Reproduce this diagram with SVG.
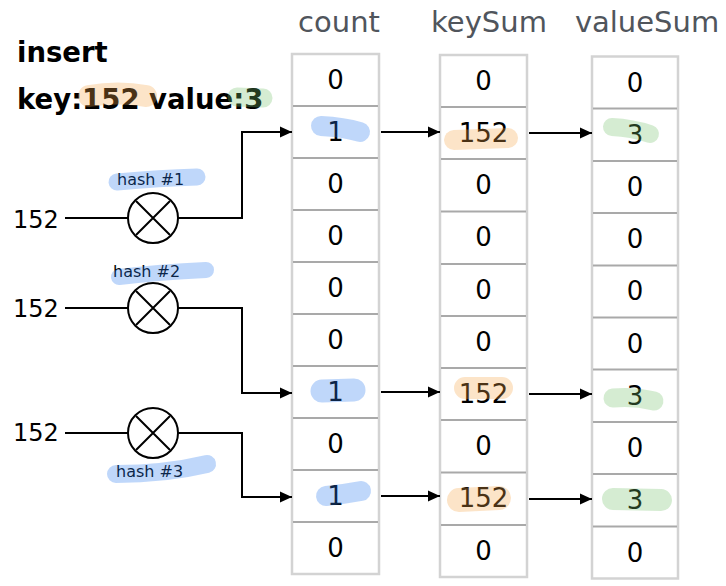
<svg xmlns="http://www.w3.org/2000/svg" width="726" height="586" viewBox="0 0 726 586">
<defs>
<marker id="ah" viewBox="0 0 12 12" refX="12" refY="6" markerWidth="12" markerHeight="12" markerUnits="userSpaceOnUse" orient="auto">
<path d="M0,0.5 L12,6 L0,11.5 Z" fill="#000"/>
</marker>
<style>
.hdr{font-family:"DejaVu Sans",sans-serif;font-size:29px;fill:#50555c;text-anchor:middle}
.ttl{font-family:"DejaVu Sans",sans-serif;font-size:27.5px;font-weight:bold;fill:#000}
.cell{font-family:"DejaVu Sans",sans-serif;font-size:26px;fill:#000;text-anchor:middle}
.in{font-family:"DejaVu Sans",sans-serif;font-size:24px;fill:#000}
.hl{font-family:"DejaVu Sans",sans-serif;font-size:16px;fill:#000}
.box{fill:#fff;stroke:#d3d3d3;stroke-width:2.5}
.sep{stroke:#a9a9a9;stroke-width:2}
.wire{fill:none;stroke:#000;stroke-width:2}
.arr{fill:none;stroke:#000;stroke-width:2;marker-end:url(#ah)}
.hash{fill:#fff;stroke:#000;stroke-width:2}
.b{fill:none;stroke:#2a7aee;stroke-opacity:0.3;stroke-linecap:round;stroke-linejoin:round}
.o{fill:none;stroke:#f5a54a;stroke-opacity:0.3;stroke-linecap:round;stroke-linejoin:round}
.g{fill:none;stroke:#73c069;stroke-opacity:0.3;stroke-linecap:round;stroke-linejoin:round}
</style>
</defs>
<rect width="726" height="586" fill="#fff"/>

<g id="title">
<text class="ttl" x="17" y="62">insert</text>
<text class="ttl" x="17" y="109">key:152 value:3</text>
<path class="o" d="M89,96 Q118,91 146,96" stroke-width="22"/>
<path class="g" d="M237,97 L263,98" stroke-width="19"/>
</g>

<g id="headers">
<text class="hdr" x="339" y="32">count</text>
<text class="hdr" x="489" y="32">keySum</text>
<text class="hdr" x="647" y="32">valueSum</text>
</g>

<g id="count">
<rect class="box" x="292" y="54" width="87" height="520"/>
<path class="sep" d="M293,106H378M293,158H378M293,210H378M293,262H378M293,314H378M293,366H378M293,418H378M293,470H378M293,522H378"/>
<text class="cell" x="335.5" y="89">0</text>
<text class="cell" x="335.5" y="141">1</text>
<text class="cell" x="335.5" y="193">0</text>
<text class="cell" x="335.5" y="245">0</text>
<text class="cell" x="335.5" y="297">0</text>
<text class="cell" x="335.5" y="349">0</text>
<text class="cell" x="335.5" y="401">1</text>
<text class="cell" x="335.5" y="453">0</text>
<text class="cell" x="335.5" y="505">1</text>
<text class="cell" x="335.5" y="557">0</text>
<path class="b" d="M321,126 Q343,127 360,132" stroke-width="20"/>
<path class="b" d="M322,391 L354,390" stroke-width="23"/>
<path class="b" d="M326,496 Q345,494 361,491" stroke-width="20"/>
</g>

<g id="keySum">
<rect class="box" x="440" y="55" width="87" height="522"/>
<path class="sep" d="M441,107H526M441,159H526M441,211.5H526M441,264H526M441,316H526M441,368H526M441,420H526M441,472.5H526M441,525H526"/>
<text class="cell" x="483.5" y="90">0</text>
<text class="cell" x="483.5" y="142">152</text>
<text class="cell" x="483.5" y="194">0</text>
<text class="cell" x="483.5" y="246">0</text>
<text class="cell" x="483.5" y="299">0</text>
<text class="cell" x="483.5" y="351">0</text>
<text class="cell" x="483.5" y="403">152</text>
<text class="cell" x="483.5" y="455">0</text>
<text class="cell" x="483.5" y="507">152</text>
<text class="cell" x="483.5" y="560">0</text>
<path class="o" d="M454,140 L508,138" stroke-width="20"/>
<path class="o" d="M465,388 L502,388" stroke-width="22"/>
<path class="o" d="M459,500 L499,498" stroke-width="24"/>
</g>

<g id="valueSum">
<rect class="box" x="592" y="56.5" width="86" height="522"/>
<path class="sep" d="M593,108.5H677M593,161H677M593,213H677M593,265.5H677M593,317.5H677M593,369.5H677M593,422H677M593,474H677M593,526.5H677"/>
<text class="cell" x="635" y="92">0</text>
<text class="cell" x="635" y="144">3</text>
<text class="cell" x="635" y="196">0</text>
<text class="cell" x="635" y="248">0</text>
<text class="cell" x="635" y="300">0</text>
<text class="cell" x="635" y="353">0</text>
<text class="cell" x="635" y="405">3</text>
<text class="cell" x="635" y="457">0</text>
<text class="cell" x="635" y="509">3</text>
<text class="cell" x="635" y="562">0</text>
<path class="g" d="M612,127 Q632,128 650,134" stroke-width="18"/>
<path class="g" d="M613,398 Q634,396 654,401" stroke-width="19"/>
<path class="g" d="M613,499 L661,500" stroke-width="22"/>
</g>

<g id="connectors">
<path class="wire" d="M65,218H128"/>
<path class="wire" d="M65,308H128"/>
<path class="wire" d="M65,433H128"/>
<path class="arr" d="M178,218H242V132H292"/>
<path class="arr" d="M178,308H242V393H292"/>
<path class="arr" d="M178,433H242V497H292"/>
<path class="arr" d="M381,132H440"/>
<path class="arr" d="M529,133H592"/>
<path class="arr" d="M381,392H440"/>
<path class="arr" d="M529,394H592"/>
<path class="arr" d="M381,496H440"/>
<path class="arr" d="M529,499H592"/>
</g>

<g id="input1">
<text class="in" x="13" y="228">152</text>
</g>
<g id="input2">
<text class="in" x="13" y="317">152</text>
</g>
<g id="input3">
<text class="in" x="13" y="441">152</text>
</g>

<g id="hash1">
<circle class="hash" cx="153" cy="218" r="25"/>
<path class="wire" d="M136,201L170,235M170,201L136,235"/>
<text class="hl" x="117" y="185">hash #1</text>
<path class="b" d="M117,182 Q160,178 197,177" stroke-width="17"/>
</g>
<g id="hash2">
<circle class="hash" cx="153" cy="308" r="25"/>
<path class="wire" d="M136,291L170,325M170,291L136,325"/>
<text class="hl" x="113" y="277">hash #2</text>
<path class="b" d="M119,277 Q160,272 206,270" stroke-width="16"/>
</g>
<g id="hash3">
<circle class="hash" cx="153" cy="433" r="25"/>
<path class="wire" d="M136,416L170,450M170,416L136,450"/>
<text class="hl" x="116" y="477">hash #3</text>
<path class="b" d="M116,474 Q165,474 207,464" stroke-width="18"/>
</g>
</svg>
